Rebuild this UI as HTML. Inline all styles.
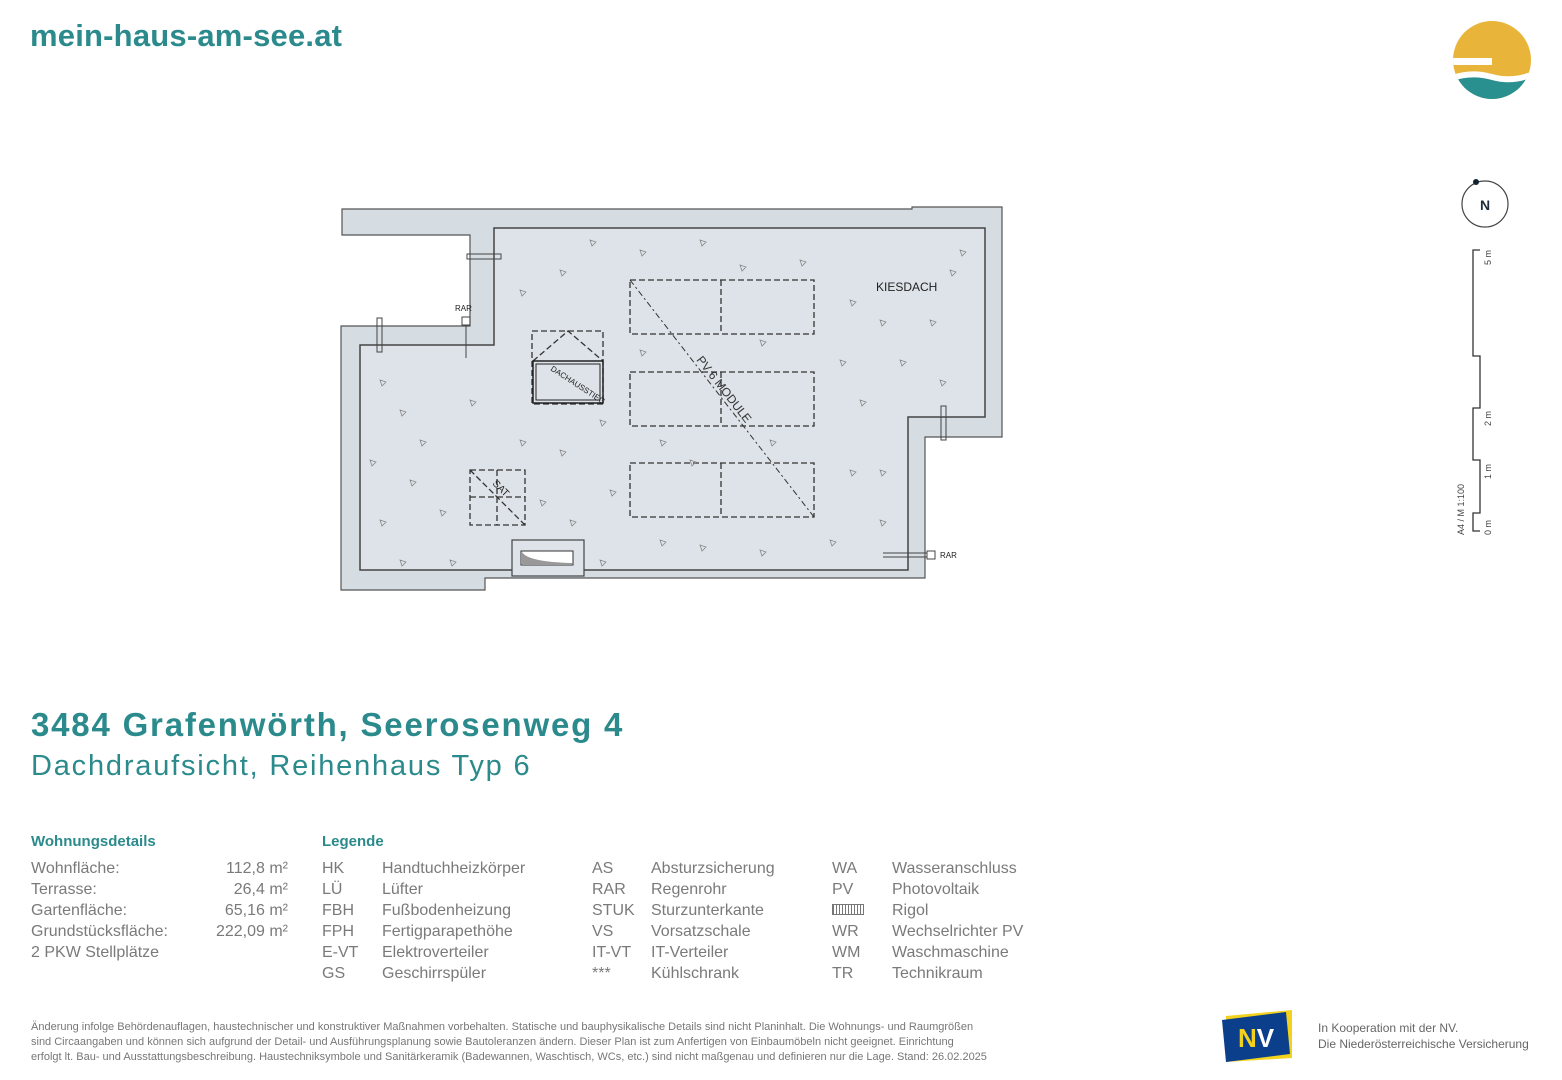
<!DOCTYPE html>
<html><head><meta charset="utf-8"><style>
body{margin:0;width:1562px;height:1080px;background:#fff;position:relative;overflow:hidden;font-family:"Liberation Sans",sans-serif}
.a{position:absolute;white-space:nowrap}
.t{color:#2b8a8c;font-weight:bold}
.g{color:#7a7a7a;font-size:16px;line-height:21px}
</style></head><body>
<div class="a t" style="left:30px;top:18px;font-size:31px;letter-spacing:0.2px">mein-haus-am-see.at</div>
<svg class="a" style="left:1450px;top:18px" width="85" height="85" viewBox="0 0 85 85">
<defs><clipPath id="c"><circle cx="42" cy="42" r="39"/></clipPath></defs>
<g clip-path="url(#c)"><rect x="0" y="0" width="85" height="85" fill="#e8b53a"/>
<path d="M0 58 Q20 50 42 56 T85 52 V85 H0Z" fill="#fff"/>
<path d="M0 64 Q20 56 42 62 T85 58 V85 H0Z" fill="#2a8f8f"/>
<rect x="0" y="40" width="42" height="7" fill="#fff"/></g></svg>
<svg class="a" style="left:1455px;top:175px" width="60" height="365">
<circle cx="30" cy="29" r="23" fill="none" stroke="#444" stroke-width="1.2"/>
<circle cx="21" cy="7" r="3" fill="#123"/>
<text x="30" y="35" font-size="14" font-weight="bold" text-anchor="middle" fill="#1d2b3a" font-family="Liberation Sans">N</text>
<path d="M25 75 H18 V181 H25 V233 H18 V285 H25 V338 H18 V356 H25" fill="none" stroke="#333" stroke-width="1.3"/>
<g font-size="9" fill="#444" font-family="Liberation Sans">
<text transform="translate(36,90) rotate(-90)">5 m</text>
<text transform="translate(36,251) rotate(-90)">2 m</text>
<text transform="translate(36,304) rotate(-90)">1 m</text>
<text transform="translate(36,360) rotate(-90)">0 m</text>
<text transform="translate(9,360) rotate(-90)">A4 / M 1:100</text></g></svg>

<svg class="a" style="left:0;top:0" width="1100" height="620">
<path d="M342 209 H912 V207 H1002 V437 H925 V578 H485 V590 H341 V326 H470 V235 H342Z" fill="#d6dde2" stroke="#555" stroke-width="1.2"/>
<path d="M494 228 H985 V417 H908 V570 H360 V345 H494Z" fill="#dde3e8" stroke="#444" stroke-width="1.5"/>
<g fill="none" stroke="#333" stroke-width="1.3" stroke-dasharray="6,3">
<rect x="630" y="280" width="184" height="54"/><line x1="721" y1="280" x2="721" y2="334"/>
<rect x="630" y="372" width="184" height="54"/><line x1="721" y1="372" x2="721" y2="426"/>
<rect x="630" y="463" width="184" height="54"/><line x1="721" y1="463" x2="721" y2="517"/>
<line x1="630" y1="280" x2="814" y2="517" stroke-dasharray="6,3,2,3" stroke-width="1"/>
<rect x="532" y="331" width="71" height="73"/><path d="M533 361 L568 331 L603 361"/>
<rect x="470" y="470" width="55" height="55"/><line x1="470" y1="497" x2="525" y2="497"/><line x1="497" y1="470" x2="497" y2="525"/><line x1="470" y1="470" x2="525" y2="525"/>
</g>
<rect x="533" y="361" width="70" height="42" fill="none" stroke="#222" stroke-width="1.5"/>
<rect x="536" y="364" width="64" height="36" fill="none" stroke="#222" stroke-width="1"/>
<rect x="512" y="540" width="72" height="36" fill="#dde3e8" stroke="#444" stroke-width="1.2"/>
<rect x="521" y="551" width="52" height="14" fill="#fff" stroke="#333"/>
<path d="M522 552 Q528 562 572 563 V564 H522Z" fill="#999"/>
<g fill="none" stroke="#444" stroke-width="1">
<rect x="467" y="254" width="34" height="5"/><rect x="377" y="318" width="5" height="34"/>
<rect x="462" y="317" width="8" height="8"/><line x1="466" y1="325" x2="466" y2="358"/>
<rect x="941" y="406" width="5" height="34"/><rect x="927" y="551" width="8" height="8"/>
<line x1="883" y1="553" x2="927" y2="553"/><line x1="883" y1="557" x2="927" y2="557"/>
</g>
<g font-family="Liberation Sans" fill="#222">
<text x="876" y="291" font-size="12">KIESDACH</text>
<text x="455" y="311" font-size="8">RAR</text><text x="940" y="558" font-size="8">RAR</text>
<text transform="translate(696,360) rotate(52)" font-size="12" fill="#333">PV 6 MODULE</text>
<text transform="translate(550,370) rotate(33)" font-size="8">DACHAUSSTIEG</text>
<text transform="translate(492,484) rotate(45)" font-size="10">SAT</text>
</g>
<g fill="none" stroke="#888" stroke-width="0.8">
<path d="M590 240l6 2-4 4z M740 265l6 2-4 4z M380 380l6 2-4 4z M420 440l6 2-4 4z M560 450l6 2-4 4z M880 320l6 2-4 4z M940 380l6 2-4 4z M660 540l6 2-4 4z M380 520l6 2-4 4z M850 470l6 2-4 4z M450 560l6 2-4 4z M760 550l6 2-4 4z M520 290l6 2-4 4z M880 520l6 2-4 4z M410 480l6 2-4 4z M600 420l6 2-4 4z M960 250l6 2-4 4z M860 400l6 2-4 4z M690 460l6 2-4 4z M570 520l6 2-4 4z
M640 250l6 2-4 4z M800 260l6 2-4 4z M700 240l6 2-4 4z M560 270l6 2-4 4z M930 320l6 2-4 4z M900 360l6 2-4 4z M950 270l6 2-4 4z M640 350l6 2-4 4z M840 360l6 2-4 4z M400 410l6 2-4 4z M470 400l6 2-4 4z M520 440l6 2-4 4z M370 460l6 2-4 4z M440 510l6 2-4 4z M610 490l6 2-4 4z M700 545l6 2-4 4z M830 540l6 2-4 4z M880 470l6 2-4 4z M770 440l6 2-4 4z M600 560l6 2-4 4z M400 560l6 2-4 4z M850 300l6 2-4 4z M760 340l6 2-4 4z M540 500l6 2-4 4z M660 440l6 2-4 4z"/></g>
</svg>

<div class="a t" style="left:31px;top:706px;font-size:33px;letter-spacing:1.8px">3484 Grafenwörth, Seerosenweg 4</div>
<div class="a" style="left:31px;top:750px;font-size:29px;color:#2b8a8c;letter-spacing:1.8px">Dachdraufsicht, Reihenhaus Typ 6</div>

<div class="a t" style="left:31px;top:833px;font-size:15px">Wohnungsdetails</div>
<div class="a g" style="left:31px;top:858px">Wohnfläche:<br>Terrasse:<br>Gartenfläche:<br>Grundstücksfläche:<br>2 PKW Stellplätze</div>
<div class="a g" style="left:200px;top:858px;width:88px;text-align:right">112,8 m²<br>26,4 m²<br>65,16 m²<br>222,09 m²</div>
<div class="a t" style="left:322px;top:833px;font-size:15px">Legende</div>
<div class="a g" style="left:322px;top:858px">HK<br>LÜ<br>FBH<br>FPH<br>E-VT<br>GS</div>
<div class="a g" style="left:382px;top:858px">Handtuchheizkörper<br>Lüfter<br>Fußbodenheizung<br>Fertigparapethöhe<br>Elektroverteiler<br>Geschirrspüler</div>
<div class="a g" style="left:592px;top:858px">AS<br>RAR<br>STUK<br>VS<br>IT-VT<br>***</div>
<div class="a g" style="left:651px;top:858px">Absturzsicherung<br>Regenrohr<br>Sturzunterkante<br>Vorsatzschale<br>IT-Verteiler<br>Kühlschrank</div>
<div class="a g" style="left:832px;top:858px">WA<br>PV<br><span style="display:inline-block;width:30px;height:9px;border:1px solid #777;background:repeating-linear-gradient(90deg,#777 0 1px,#fff 1px 3px)"></span><br>WR<br>WM<br>TR</div>
<div class="a g" style="left:892px;top:858px">Wasseranschluss<br>Photovoltaik<br>Rigol<br>Wechselrichter PV<br>Waschmaschine<br>Technikraum</div>

<div class="a" style="left:31px;top:1020px;font-size:11px;line-height:15px;color:#777">Änderung infolge Behördenauflagen, haustechnischer und konstruktiver Maßnahmen vorbehalten. Statische und bauphysikalische Details sind nicht Planinhalt. Die Wohnungs- und Raumgrößen<br>sind Circaangaben und können sich aufgrund der Detail- und Ausführungsplanung sowie Bautoleranzen ändern. Dieser Plan ist zum Anfertigen von Einbaumöbeln nicht geeignet. Einrichtung<br>erfolgt lt. Bau- und Ausstattungsbeschreibung. Haustechniksymbole und Sanitärkeramik (Badewannen, Waschtisch, WCs, etc.) sind nicht maßgenau und definieren nur die Lage. Stand: 26.02.2025</div>
<svg class="a" style="left:1220px;top:1008px" width="76" height="56">
<polygon points="6,8 72,2 72,50 6,54" fill="#f2d21d"/>
<polygon points="2,12 66,4 70,46 6,54" fill="#0b3f8c"/>
<text x="36" y="39" font-size="26" font-weight="bold" text-anchor="middle" font-family="Liberation Sans"><tspan fill="#f2d21d">N</tspan><tspan fill="#fff">V</tspan></text></svg>
<div class="a" style="left:1318px;top:1020px;font-size:12px;line-height:16px;color:#666">In Kooperation mit der NV.<br>Die Niederösterreichische Versicherung</div>
</body></html>
